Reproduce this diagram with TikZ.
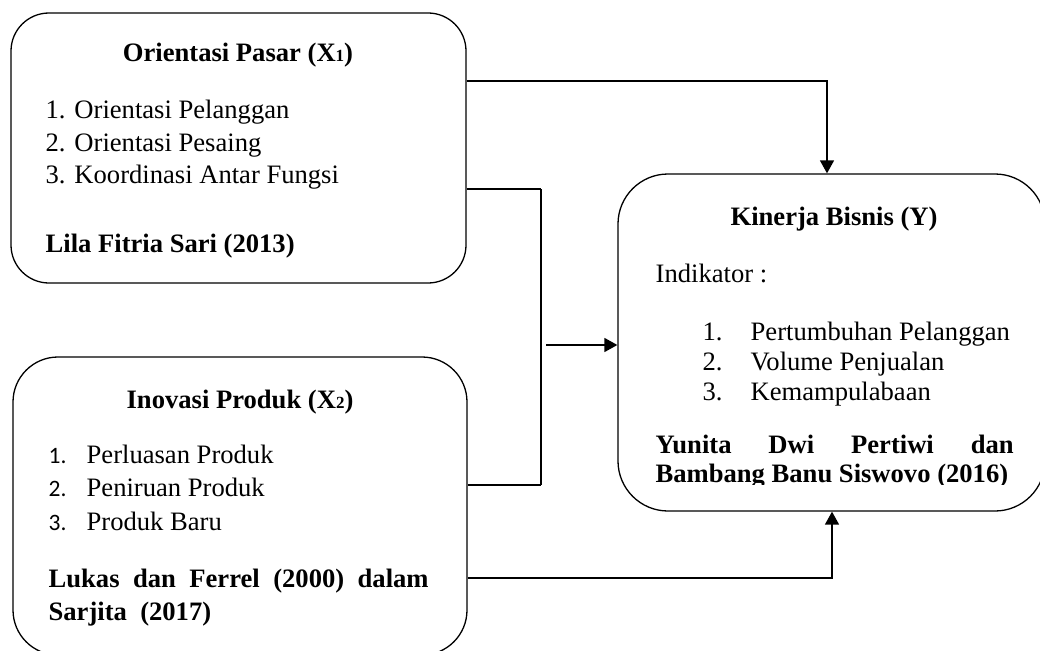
\documentclass[tikz,border=0pt]{standalone}
\usepackage{fontspec}
\setmainfont{Liberation Serif}
\newfontfamily\numfont{Carlito}
\usetikzlibrary{arrows.meta,positioning,calc}

\newcommand{\idx}[1]{{\fontsize{17}{17}\selectfont #1}}

\begin{document}
\begin{tikzpicture}[x=1pt,y=-1pt,line width=1.3pt,
    every node/.style={inner sep=0pt,anchor=base west},
    kotak/.style={draw,anchor=center,line width=1.3pt},
    teks/.style={font=\fontsize{26.6}{33}\selectfont},
    tebal/.style={font=\fontsize{26.6}{33}\selectfont\bfseries},
    judul/.style={font=\fontsize{26.6}{33}\selectfont\bfseries,anchor=base},
    nomor/.style={font=\fontsize{23.5}{33}\selectfont\numfont},
    panah/.style={-{Triangle[length=13pt,width=14pt]},line width=1.5pt}]
    \clip (0,0) rectangle (1040,650);
    % kotak variabel
    \node[kotak,minimum width=455pt,minimum height=270pt,rounded corners=38pt] (pasar) at (238.5,148) {};
    \node[kotak,minimum width=454pt,minimum height=298pt,rounded corners=45pt] (produk) at (240,506) {};
    \node[kotak,minimum width=427pt,minimum height=337pt,rounded corners=50pt] (kinerja) at (831.5,342.5) {};
    % orientasi pasar
    \node[judul] (tPasar) at (238,62) {Orientasi Pasar (X\idx{1})};
    \node[teks] (p1) at (45,118) {1. Orientasi Pelanggan};
    \node[teks] (p2) at (45,151) {2. Orientasi Pesaing};
    \node[teks] (p3) at (45,183) {3. Koordinasi Antar Fungsi};
    \node[tebal] (pSumber) at (45,252) {Lila Fitria Sari (2013)};
    % inovasi produk
    \node[judul] (tProduk) at (240,408) {Inovasi Produk (X\idx{2})};
    \node[nomor] (n1) at (48,463) {1.};
    \node[teks] (i1) at (86,463) {Perluasan Produk};
    \node[nomor] (n2) at (48,496) {2.};
    \node[teks] (i2) at (86,496) {Peniruan Produk};
    \node[nomor] (n3) at (48,530) {3.};
    \node[teks] (i3) at (86,530) {Produk Baru};
    \node[tebal] (iSumber1) at (48,587) {\makebox[380pt][s]{Lukas dan Ferrel (2000) dalam}};
    \node[tebal] (iSumber2) at (48,620) {Sarjita\ \ (2017)};
    % kinerja bisnis
    \node[judul] (tKinerja) at (834,225) {Kinerja Bisnis (Y)};
    \node[teks] (ind) at (655,282) {Indikator :};
    \node[teks] (k1n) at (702,340) {1.};
    \node[teks] (k1) at (750,340) {Pertumbuhan Pelanggan};
    \node[teks] (k2n) at (702,370) {2.};
    \node[teks] (k2) at (750,370) {Volume Penjualan};
    \node[teks] (k3n) at (702,400) {3.};
    \node[teks] (k3) at (750,400) {Kemampulabaan};
    \node[tebal] (kSumber1) at (655,453) {\makebox[358pt][s]{Yunita Dwi Pertiwi dan}};
    \begin{scope}
        \clip (600,420) rectangle (1040,484);
        \node[tebal] (kSumber2) at (655,482) {Bambang Banu Siswovo (2016)};
    \end{scope}
    % hubungan
    \coordinate (atas) at (827,81);
    \draw[panah] (pasar.east |- atas) -| (kinerja.north -| atas);
    \coordinate (kurungAtas) at (541,189);
    \coordinate (kurungBawah) at (541,485);
    \draw (pasar.east |- kurungAtas) -- (kurungAtas);
    \draw[line width=2pt] (kurungAtas) -- (kurungBawah);
    \draw (produk.east |- kurungBawah) -- (kurungBawah);
    \coordinate (tengah) at (546,345);
    \draw[panah] (tengah) -- (kinerja.west |- tengah);
    \coordinate (bawah) at (832,578);
    \draw[panah] (produk.east |- bawah) -| (kinerja.south -| bawah);
\end{tikzpicture}
\end{document}
